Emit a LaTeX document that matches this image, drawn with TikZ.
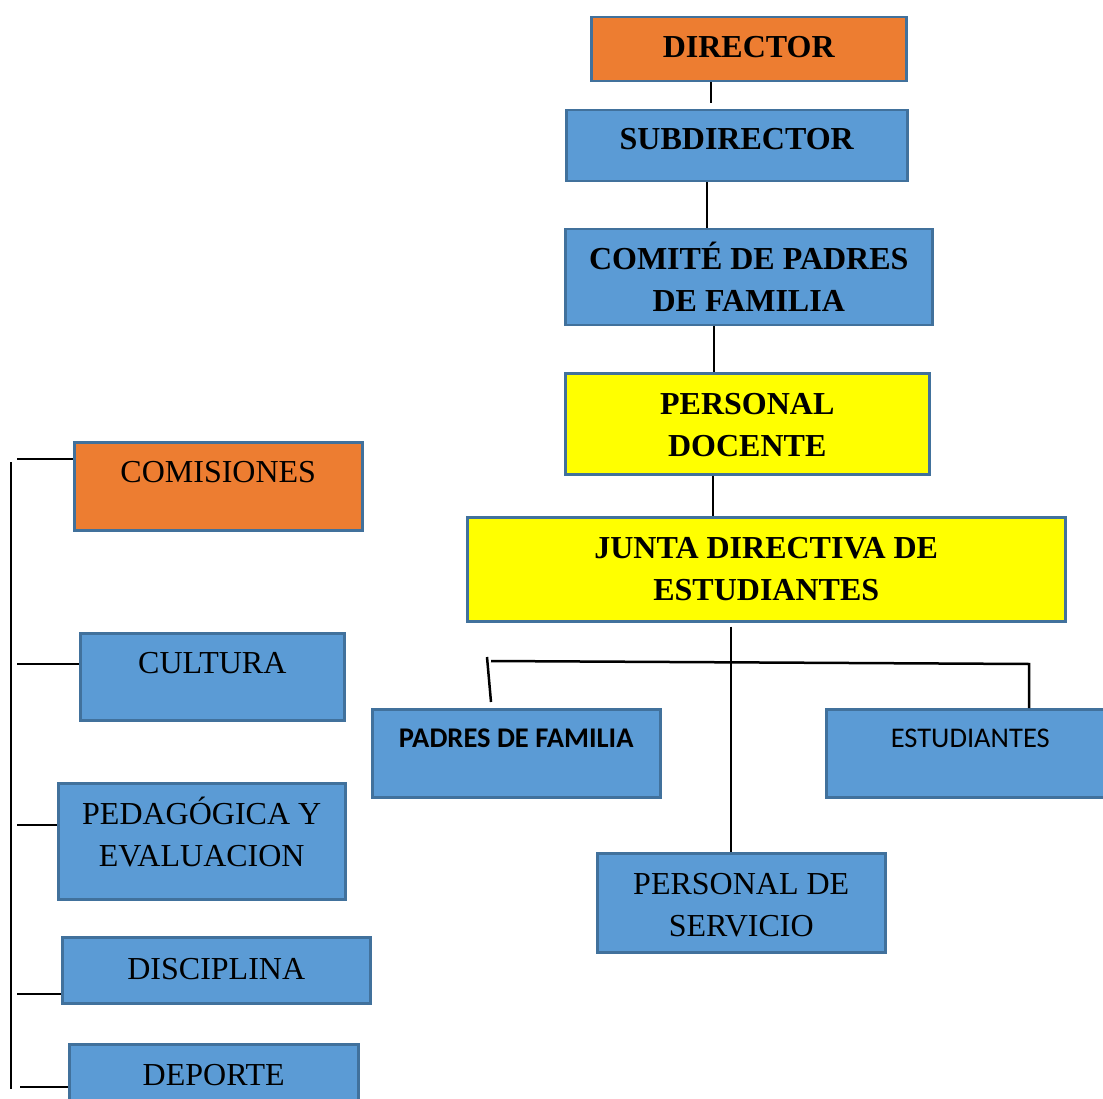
\documentclass[tikz,border=0pt]{standalone}
\usepackage{fontspec}
\setmainfont{Liberation Serif}
\newfontfamily\calibri{Carlito}
\definecolor{naranja}{HTML}{ED7D31}
\definecolor{azul}{HTML}{5B9BD5}
\definecolor{amarillo}{HTML}{FFFF00}
\definecolor{borde}{HTML}{41719C}
\begin{document}
\begin{tikzpicture}[x=1pt, y=-1pt,
  caja/.style={rectangle, draw=borde, line width=2.5pt, inner sep=0pt, anchor=north west, align=flush center, font=\fontsize{32}{42.5}\selectfont},
  negrita/.style={font=\fontsize{32}{42.5}\selectfont\bfseries},
  sans/.style={font=\fontsize{28.5}{34}\selectfont\calibri},
  linea/.style={line width=2.5pt}]
\useasboundingbox (0,0) rectangle (1103,1099);

% Cadena principal
\node (director) [caja, negrita, fill=naranja, text width=315pt, text height=40pt, text depth=24pt] at (590,16) {DIRECTOR};
\node (subdir) [caja, negrita, fill=azul, text width=341pt, text height=39pt, text depth=32pt] at (565,109) {SUBDIRECTOR};
\node (comite) [caja, negrita, fill=azul, text width=367pt, text height=40pt, text depth=56pt] at (564,228) {COMITÉ DE PADRES\\DE FAMILIA};
\node (docente) [caja, negrita, fill=amarillo, text width=364pt, text height=41pt, text depth=60pt] at (564,372) {PERSONAL\\DOCENTE};
\node (junta) [caja, negrita, fill=amarillo, text width=598pt, text height=41pt, text depth=63pt] at (466,516) {JUNTA DIRECTIVA DE\\ESTUDIANTES};

% Debajo de la junta
\node (padres) [caja, sans, fill=azul, text width=288pt, text height=38pt, text depth=50pt] at (371,708) {\bfseries PADRES DE FAMILIA};
\node (estud) [caja, sans, fill=azul, text width=288pt, text height=38pt, text depth=50pt] at (825,708) {ESTUDIANTES};
\node (servicio) [caja, fill=azul, text width=288pt, text height=41pt, text depth=58pt] at (596,852) {PERSONAL DE\\SERVICIO};

% Comisiones
\node (comisiones) [caja, fill=naranja, text width=288pt, text height=40pt, text depth=48pt] at (73,441) {COMISIONES};
\node (cultura) [caja, fill=azul, text width=264pt, text height=40pt, text depth=47pt] at (79,632) {CULTURA};
\node (pedagogica) [caja, fill=azul, text width=287pt, text height=41pt, text depth=75pt] at (57,782) {PEDAGÓGICA Y\\EVALUACION};
\node (disciplina) [caja, fill=azul, text width=308pt, text height=42pt, text depth=24pt] at (61,936) {DISCIPLINA};
\node (deporte) [caja, fill=azul, text width=289pt, text height=41pt, text depth=41pt] at (68,1043) {DEPORTE};

% Lineas
\draw[linea, shorten >=6pt] (711,0 |- director.south) -- (711,0 |- subdir.north);
\draw[linea] (707,0 |- subdir.south) -- (707,0 |- comite.north);
\draw[linea] (714,0 |- comite.south) -- (714,0 |- docente.north);
\draw[linea] (713,0 |- docente.south) -- (713,0 |- junta.north);
\draw[linea] (731,0 |- junta.south) ++(0,4) -- (731,0 |- servicio.north);
\draw[linea] (491,0 |- padres.north) ++(0,-6) -- (487,657);
\draw[linea] (491,661) -- (1029,664) -- (1029,0 |- estud.north);

\coordinate (eje) at (11,462);
\draw[linea] (eje) -- (11,1089);
\foreach \n/\y/\x in {comisiones/459/17, cultura/664/17, pedagogica/825/17, disciplina/994/17, deporte/1087/20}
  \draw[linea] (\x,\y) -- (\n.west |- \x,\y);

\end{tikzpicture}
\end{document}
